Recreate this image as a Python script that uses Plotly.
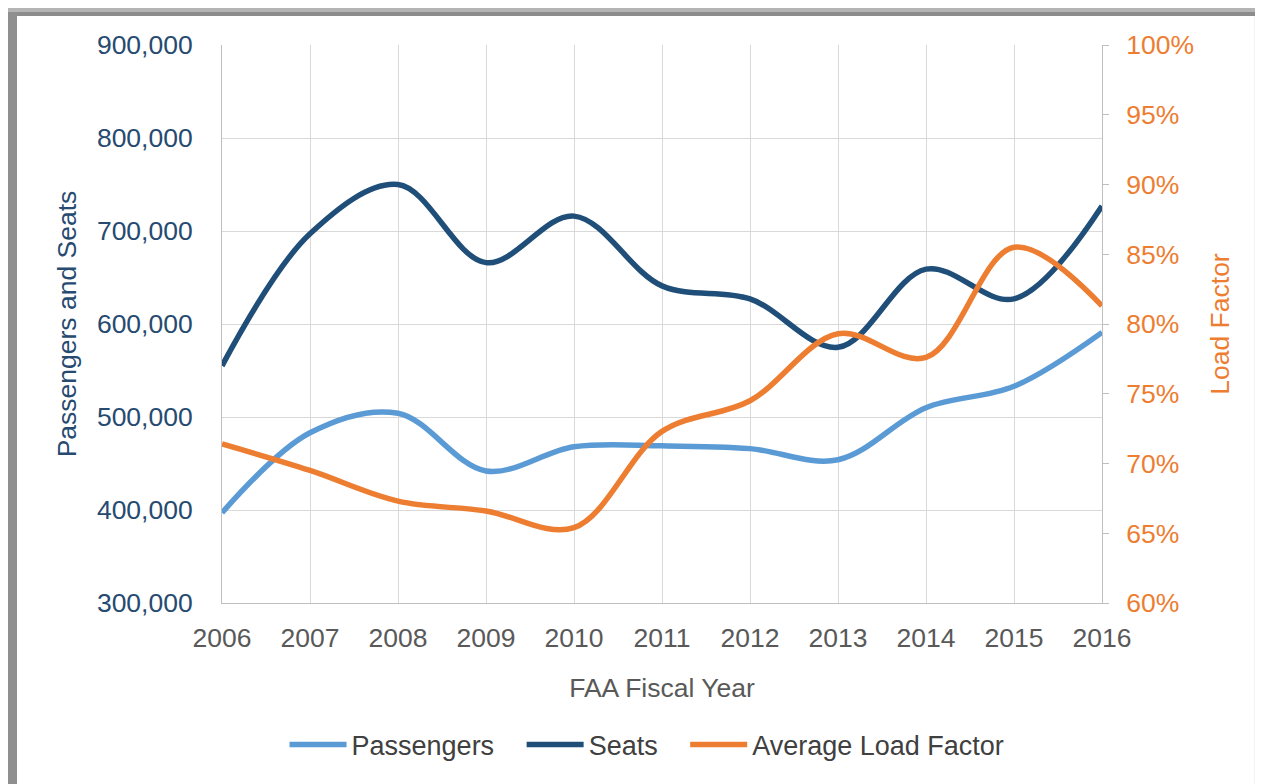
import plotly.graph_objects as go

years = [2006, 2007, 2008, 2009, 2010, 2011, 2012, 2013, 2014, 2015, 2016]
passengers = [397000, 483000, 504000, 442000, 468000, 469000, 466000, 454000, 510000, 533000, 591000]
seats = [555000, 697000, 750000, 666000, 716000, 641000, 627000, 575000, 659000, 627000, 727000]
load_factor = [0.714, 0.695, 0.673, 0.666, 0.654, 0.723, 0.745, 0.793, 0.776, 0.855, 0.813]

# the page body adds an 8px offset, so the figure is sized to fill the rest
W, H = 1255, 776
L, T = 214, 37
pw, ph = 880, 558
R, B = W - L - pw, H - T - ph

def px_x(x):
    return (x - L) / pw

def px_y(y):
    return (H - B - y) / ph

fig = go.Figure()

fig.add_trace(go.Scatter(
    x=years, y=passengers, name='Passengers\u00a0\u00a0\u00a0', mode='lines',
    line=dict(color='#5B9BD5', width=5.5, shape='spline', smoothing=1.0),
))
fig.add_trace(go.Scatter(
    x=years, y=seats, name='Seats\u00a0\u00a0\u00a0', mode='lines',
    line=dict(color='#1F4E79', width=5.5, shape='spline', smoothing=1.0),
))
fig.add_trace(go.Scatter(
    x=years, y=load_factor, name='Average Load Factor', mode='lines', yaxis='y2',
    line=dict(color='#ED7D31', width=5.5, shape='spline', smoothing=1.0),
))

# grey frame around the chart (top and left edges with shadow)
shapes = [
    dict(type='rect', xref='paper', yref='paper', layer='below',
         x0=px_x(0), x1=px_x(W), y0=px_y(0), y1=px_y(4),
         fillcolor='#b4b4b4', line=dict(width=0)),
    dict(type='rect', xref='paper', yref='paper', layer='below',
         x0=px_x(0), x1=px_x(W), y0=px_y(4), y1=px_y(8),
         fillcolor='#8c8c8c', line=dict(width=0)),
    dict(type='rect', xref='paper', yref='paper', layer='below',
         x0=px_x(0), x1=px_x(9), y0=px_y(H), y1=px_y(4),
         fillcolor='#8f8f8f', line=dict(width=0)),
    dict(type='line', xref='paper', yref='paper', layer='below',
         x0=px_x(1247), x1=px_x(1247), y0=px_y(H), y1=px_y(8),
         line=dict(color='#e6e6e6', width=1)),
]

fs = 26.5

fig.update_layout(
    width=W, height=H,
    margin=dict(l=L, r=R, t=T, b=B),
    paper_bgcolor='white',
    plot_bgcolor='white',
    font=dict(family='Liberation Sans, Arial, sans-serif', size=fs, color='#595959'),
    showlegend=True,
    legend=dict(
        orientation='h', x=0.483, y=px_y(737), xanchor='center', yanchor='middle',
        font=dict(size=27, color='#404040'), itemwidth=57,
        bgcolor='rgba(0,0,0,0)',
    ),
    xaxis=dict(
        range=[2006, 2016], dtick=1, tick0=2006,
        showgrid=True, gridcolor='#d9d9d9', gridwidth=1,
        showline=True, linecolor='#bfbfbf', linewidth=1,
        ticks='', ticklabelstandoff=11,
        tickfont=dict(size=fs, color='#595959'),
        title=dict(text='FAA Fiscal Year', standoff=26,
                   font=dict(size=fs, color='#595959')),
        zeroline=False,
    ),
    yaxis=dict(
        range=[300000, 900000], dtick=100000, tickformat=',',
        showgrid=True, gridcolor='#d9d9d9', gridwidth=1,
        showline=True, linecolor='#bfbfbf', linewidth=1,
        ticks='', ticklabelstandoff=23,
        tickfont=dict(size=fs, color='#264a70'),
        title=dict(text='Passengers and Seats', standoff=12,
                   font=dict(size=fs, color='#264a70')),
        zeroline=False,
    ),
    yaxis2=dict(
        range=[0.6, 1.0], dtick=0.05, tickformat='.0%',
        overlaying='y', side='right',
        showgrid=False, showline=True, linecolor='#bfbfbf', linewidth=1,
        ticks='outside', ticklen=6, tickcolor='#bfbfbf', ticklabelstandoff=12,
        tickfont=dict(size=fs, color='#ED7D31'),
        title=dict(text='Load Factor', standoff=17,
                   font=dict(size=fs, color='#ED7D31')),
        zeroline=False,
    ),
    shapes=shapes,
)

fig.write_html("out.html")
